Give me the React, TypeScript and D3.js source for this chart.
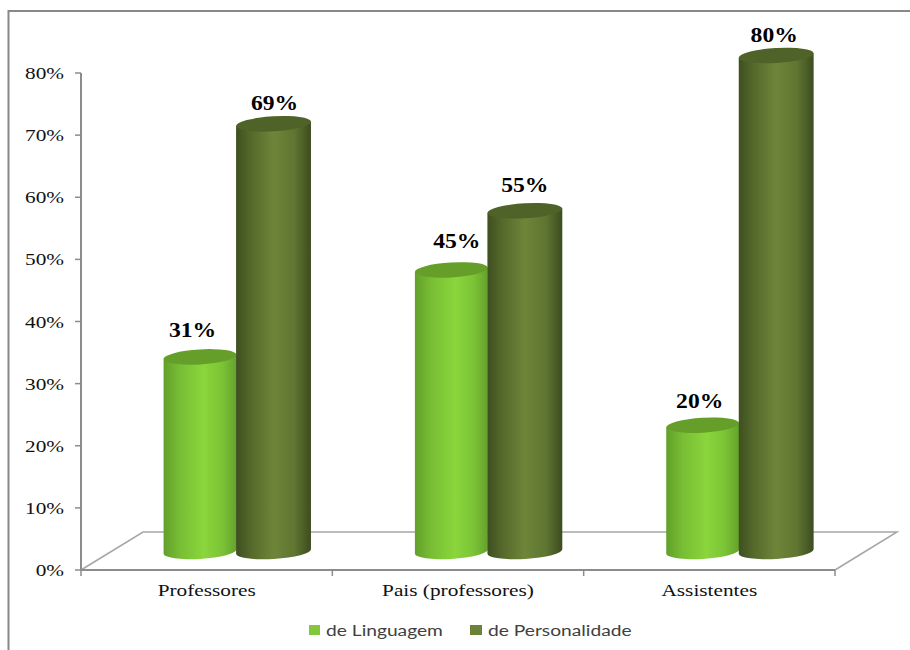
import React from "react";
import * as d3 from "d3";

const categories = ["Professores", "Pais (professores)", "Assistentes"];
const seriesNames = ["de Linguagem", "de Personalidade"];
const linguagem = [31, 45, 20];
const personalidade = [69, 55, 80];
const yTicks = [0, 10, 20, 30, 40, 50, 60, 70, 80];

// Hand-placed value labels, as offsets from each column's own position.
const lightLabelNudge = [[-7.5, 40], [5.5, 42], [-3, 38]];
const darkLabelNudge = [[1, 31], [0, 36], [-2, 31]];

const W = 910;
const H = 650;
const axisLeft = 81;
const axisRight = 835;
const floorDx = 62;
const floorDy = 38;
const baseLift = 18.5;
const lightLift = 20.5;
const darkLift = 17.5;
const tilt = -3.4;
const serif = "'Liberation Serif', serif";

const y = d3.scaleLinear().domain([0, 80]).range([570, 73]);
const x = d3.scaleBand<string>().domain(categories).range([axisLeft, axisRight]);
const fmt = (v: number) => `${v}%`;

type Cyl = { cx: number; rx: number; ry: number; value: number; lift: number; grad: string; top: string };

function Cylinder({ cx, rx, ry, value, lift, grad, top }: Cyl) {
  const rad = (tilt * Math.PI) / 180;
  const dx = rx * Math.cos(rad);
  const dy = rx * Math.sin(rad);
  const yTop = y(value) - lift;
  const yBot = y(0) - baseLift;
  const d =
    `M${cx - dx},${yTop - dy}L${cx - dx},${yBot - dy}` +
    `A${rx},${ry} ${tilt} 0 0 ${cx + dx},${yBot + dy}L${cx + dx},${yTop + dy}Z`;
  return (
    <g>
      <path d={d} fill={`url(#${grad})`} />
      <ellipse cx={cx} cy={yTop} rx={rx} ry={ry} fill={top} transform={`rotate(${tilt} ${cx} ${yTop})`} />
    </g>
  );
}

function Stretched({ x: px, y: py, sx, children, ...rest }: any) {
  return (
    <text transform={`translate(${px},${py}) scale(${sx},1)`} {...rest}>
      {children}
    </text>
  );
}

export default function App() {
  const step = x.step();
  const lightCx = (c: string) => (x(c) as number) + step * 0.4735;
  const darkCx = (c: string) => (x(c) as number) + step * 0.766;
  return (
    <svg width={W} height={H} viewBox={`0 0 ${W} ${H}`} style={{ position: "fixed", left: 0, top: 0, background: "#fff" }}>
      <defs>
        <linearGradient id="lightBody" x1="0" x2="1" y1="0" y2="0">
          <stop offset="0" stopColor="#62a02a" />
          <stop offset="0.22" stopColor="#78bd34" />
          <stop offset="0.55" stopColor="#8ad63c" />
          <stop offset="0.8" stopColor="#7cc436" />
          <stop offset="1" stopColor="#64a22c" />
        </linearGradient>
        <linearGradient id="darkBody" x1="0" x2="1" y1="0" y2="0">
          <stop offset="0" stopColor="#3f4f20" />
          <stop offset="0.2" stopColor="#55692b" />
          <stop offset="0.5" stopColor="#6e8539" />
          <stop offset="0.78" stopColor="#5f7531" />
          <stop offset="1" stopColor="#3d4c1f" />
        </linearGradient>
      </defs>

      {/* chart frame */}
      <path d={`M8.5,${H}V11H${W}`} fill="none" stroke="#888" strokeWidth={2} />

      {/* 3D floor */}
      <path
        d={`M${axisLeft},${y(0)}L${axisLeft + floorDx},${y(0) - floorDy}H${axisRight + floorDx}L${axisRight},${y(0)}`}
        fill="none"
        stroke="#a6a6a6"
        strokeWidth={1.5}
      />

      {/* value axis */}
      <path d={`M${axisLeft},${y(80)}V${y(0)}H${axisRight}`} fill="none" stroke="#8c8c8c" strokeWidth={2} />
      {yTicks.map((t) => (
        <g key={t}>
          <line x1={axisLeft - 6} x2={axisLeft} y1={y(t)} y2={y(t)} stroke="#8c8c8c" strokeWidth={1.5} />
          <Stretched x={64} y={y(t) + 6} sx={1.33} textAnchor="end" fontFamily={serif} fontSize={16} fill="#111">
            {fmt(t)}
          </Stretched>
        </g>
      ))}

      {/* category axis */}
      {[...categories.map((c) => x(c) as number), axisRight].map((t) => (
        <line key={t} x1={t} x2={t} y1={y(0)} y2={y(0) + 6} stroke="#8c8c8c" strokeWidth={1.5} />
      ))}
      {categories.map((c) => (
        <Stretched key={c} x={(x(c) as number) + step / 2} y={596} sx={1.33} textAnchor="middle" fontFamily={serif} fontSize={16} fill="#111">
          {c}
        </Stretched>
      ))}

      {/* columns: the darker series overlaps the lighter one */}
      {categories.map((c, i) => (
        <g key={c}>
          <Cylinder cx={lightCx(c)} rx={36.5} ry={7.5} value={linguagem[i]} lift={lightLift} grad="lightBody" top="#659f2a" />
          <Cylinder cx={darkCx(c)} rx={37.5} ry={7.5} value={personalidade[i]} lift={darkLift} grad="darkBody" top="#4f6328" />
        </g>
      ))}

      {/* value labels */}
      {categories.map((c, i) => (
        <g key={c}>
          <Stretched
            x={lightCx(c) + lightLabelNudge[i][0]}
            y={y(linguagem[i]) - lightLabelNudge[i][1]}
            sx={1.18}
            textAnchor="middle"
            fontFamily={serif}
            fontWeight={700}
            fontSize={20}
            fill="#000"
          >
            {fmt(linguagem[i])}
          </Stretched>
          <Stretched
            x={darkCx(c) + darkLabelNudge[i][0]}
            y={y(personalidade[i]) - darkLabelNudge[i][1]}
            sx={1.18}
            textAnchor="middle"
            fontFamily={serif}
            fontWeight={700}
            fontSize={20}
            fill="#000"
          >
            {fmt(personalidade[i])}
          </Stretched>
        </g>
      ))}

      {/* legend */}
      <rect x={309} y={625} width={11} height={10} fill="#82c83a" />
      <Stretched x={326} y={636} sx={1.2} fontFamily="Lato, sans-serif" fontSize={16} fill="#404040">
        {seriesNames[0]}
      </Stretched>
      <rect x={470} y={625} width={12} height={10} fill="#6b8238" />
      <Stretched x={488} y={636} sx={1.2} fontFamily="Lato, sans-serif" fontSize={16} fill="#404040">
        {seriesNames[1]}
      </Stretched>
    </svg>
  );
}
